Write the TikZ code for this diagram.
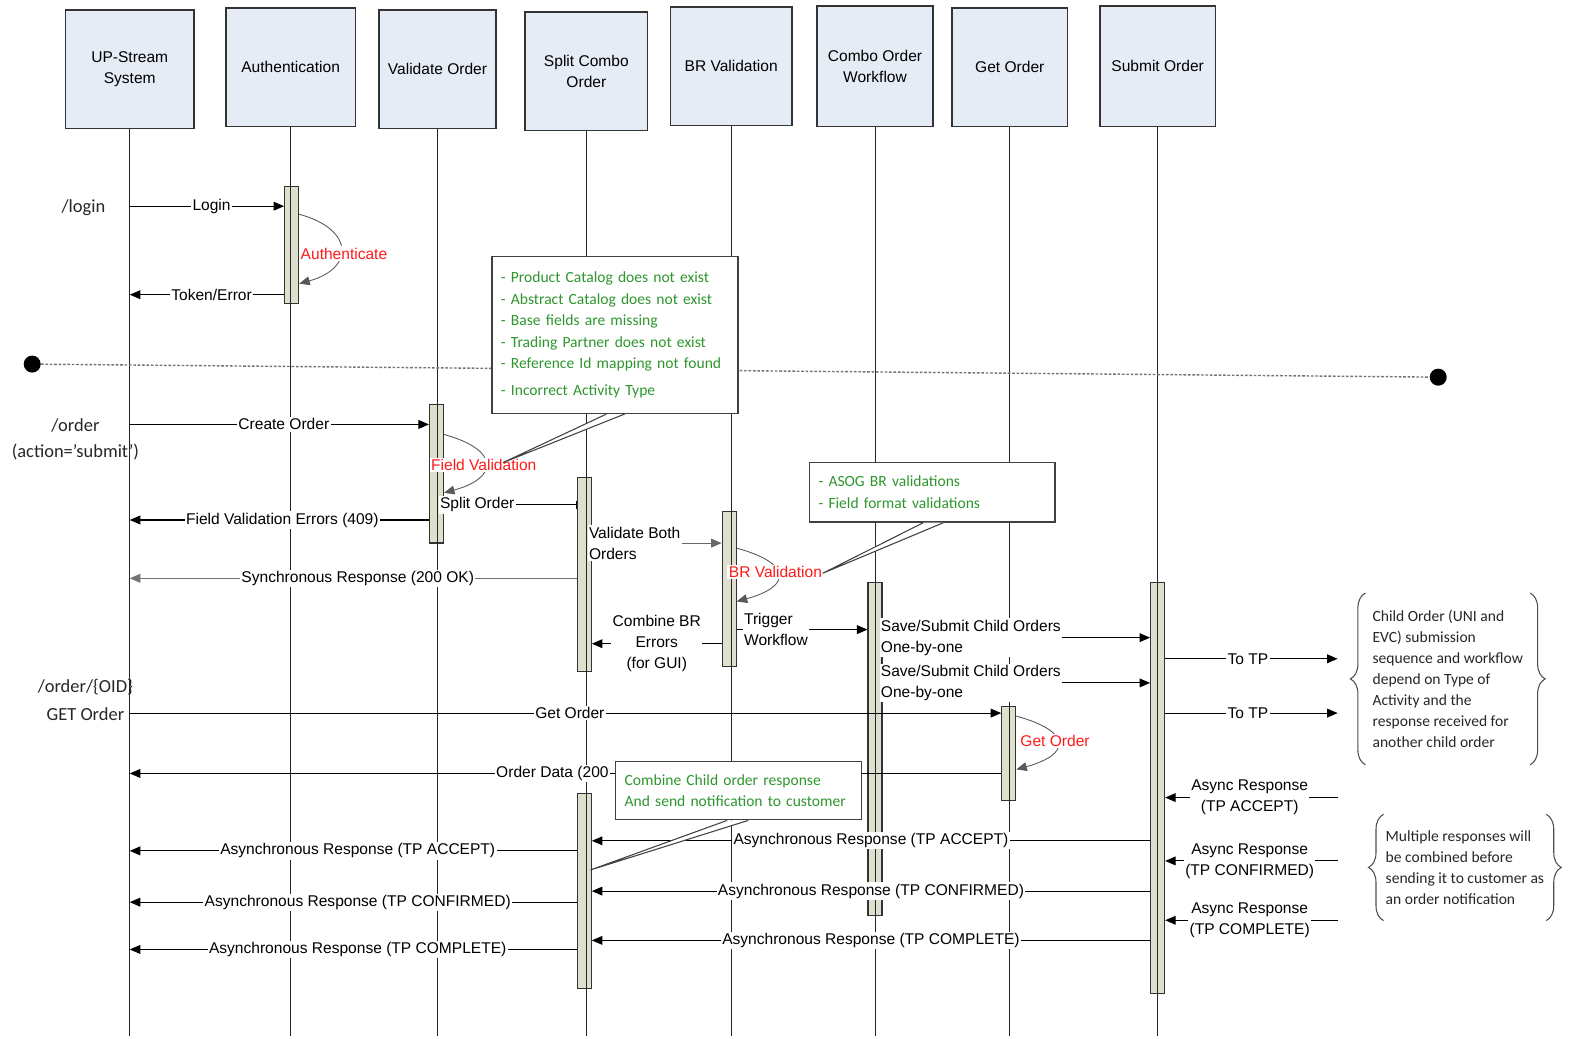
\documentclass[tikz,border=0pt]{standalone}
\usepackage{fontspec}
\setmainfont{Liberation Sans}
\newfontfamily\calibri{Carlito}
\usetikzlibrary{arrows.meta,decorations.pathreplacing}

\definecolor{headfill}{HTML}{E6ECF6}
\definecolor{barfill}{HTML}{DDE0CD}
\definecolor{notegreen}{HTML}{2E962E}
\definecolor{callred}{HTML}{FF1A1A}

\tikzset{
  head/.style={draw=black!80, line width=0.9pt, fill=headfill, minimum height=2.37cm, align=center, inner sep=2pt},
  actbar/.style={draw=black!80, line width=0.6pt, fill=barfill, minimum width=0.28cm, inner sep=0pt},
  life/.style={draw=black!85, line width=0.55pt},
  msg/.style={draw=black, line width=0.6pt, -{Triangle[length=6pt,width=5pt]}},
  msgbar/.style={draw=black, line width=0.6pt, -{Bar[width=5pt]}},
  lbl/.style={fill=white, inner sep=0.8pt, align=center},
  selfcall/.style={draw=black!65, line width=0.5pt, -{Triangle[length=6pt,width=5pt]}},
  redlbl/.style={text=callred, fill=white, inner sep=0.8pt},
  note/.style={draw=black!75, line width=0.7pt, fill=white, align=left, text=notegreen, inner xsep=0.18cm,
    font=\calibri\fontsize{8.85}{12.3}\selectfont},
  tail/.style={draw=black!75, line width=0.6pt, fill=white},
  bracenote/.style={align=left, inner sep=0pt, text=black!85, font=\calibri\fontsize{8.85}{12}\selectfont},
  curly/.style={decorate, decoration={brace, amplitude=0.3cm}, draw=black!70, line width=0.6pt},
  side/.style={text=black!85, font=\calibri\fontsize{10.5}{12}\selectfont},
  dot/.style={circle, fill=black, minimum size=0.34cm, inner sep=0pt},
  divider/.style={draw=black!55, line width=0.8pt, dash pattern=on 1.5pt off 1pt}
}

\begin{document}
\begin{tikzpicture}[x=0.020115cm, y=-0.020115cm, font=\fontsize{8.85}{12}\selectfont]
  \useasboundingbox (0,0) rectangle (1568,1032.1);

  % lifeline heads
  \node[head, minimum width=2.57cm] (up) at (129,69) {UP-Stream\\System};
  \node[head, minimum width=2.59cm] (auth) at (289,67) {Authentication};
  \node[head, minimum width=2.33cm] (valid) at (435,69) {Validate Order};
  \node[head, minimum width=2.45cm] (split) at (583,71) {Split Combo\\Order};
  \node[head, minimum width=2.43cm] (brv) at (727,66) {BR Validation};
  \node[head, minimum width=2.31cm, minimum height=2.41cm] (combo) at (870,66) {Combo Order\\Workflow};
  \node[head, minimum width=2.31cm] (getord) at (1004,67) {Get Order};
  \node[head, minimum width=2.31cm, minimum height=2.41cm] (submit) at (1151,66) {Submit Order};

  % activation bars
  \node[actbar, minimum height=2.35cm] (abar) at (290,243.5) {};
  \node[actbar, minimum height=2.77cm] (vbar) at (434,471) {};
  \node[actbar, minimum height=3.88cm] (sbar1) at (581,571.5) {};
  \node[actbar, minimum height=3.1cm] (brbar) at (725,586) {};
  \node[actbar, minimum height=6.66cm] (cbar) at (870,744.5) {};
  \node[actbar, minimum height=1.89cm] (gbar) at (1003,749) {};
  \node[actbar, minimum height=8.23cm] (sbbar) at (1151,783.5) {};
  \node[actbar, minimum height=3.9cm] (sbar2) at (581,886) {};

  % lifelines
  \foreach \h in {up,auth,valid,split,brv,combo,getord,submit}
    \draw[life] (\h.south) -- (\h.south |- 0,1030);

  % divider
  \node[dot] (ldot) at (32,362) {};
  \node[dot] (rdot) at (1430,375) {};
  \draw[divider] (ldot) -- (rdot);

  % login
  \node[side] (loginpath) at (83,206) {/login};
  \draw[msg] (up |- 0,205) -- node[lbl, pos=0.53] (loginlbl) {Login} (abar.west |- 0,205);
  \draw[selfcall] (abar.east |- 0,213) .. controls +(55,15) and +(55,-15) .. (abar.east |- 0,282);
  \node[redlbl] (authlbl) at (342,252) {Authenticate};
  \draw[msg] (abar.west |- 0,293) -- node[lbl, pos=0.47] (tokenlbl) {Token/Error} (up |- 0,293);

  % create order
  \node[side] (orderpath) at (75,423) {/order};
  \node[side] (orderact) at (75,449) {(action=’submit’)};
  \draw[msg] (up |- 0,422) -- node[lbl, pos=0.515] (createlbl) {Create Order} (vbar.west |- 0,422);
  \draw[selfcall] (vbar.east |- 0,432) .. controls +(55,15) and +(55,-15) .. (vbar.east |- 0,490);
  \node[redlbl] (fvlbl) at (481,462) {Field Validation};
  \draw[msgbar] (vbar.east |- 0,502) -- node[lbl, pos=0.25] (splitlbl) {Split Order} (sbar1.west |- 0,502);
  \draw[msg] (vbar.west |- 0,517) -- node[lbl, pos=0.49] (fverrlbl) {Field Validation Errors (409)} (up |- 0,517);
  \draw[msg, draw=black!55] (sbar1.west |- 0,575) -- node[lbl, pos=0.49] (synclbl) {Synchronous Response (200 OK)} (up |- 0,575);

  % BR validation
  \draw[msg, draw=black!60] (sbar1.east |- 0,540) -- node[lbl, pos=0.33, align=left] (bothlbl) {Validate Both\\Orders} (brbar.west |- 0,540);
  \draw[selfcall] (brbar.east |- 0,545) .. controls +(55,15) and +(55,-15) .. (brbar.east |- 0,598);
  \node[redlbl] (brlbl) at (771,569) {BR Validation};
  \draw[msg] (brbar.west |- 0,640) -- node[lbl, pos=0.5] (combinelbl) {Combine BR\\Errors\\(for GUI)} (sbar1.east |- 0,640);
  \draw[msg] (brbar.east |- 0,626) -- node[lbl, pos=0.3, align=left] (triggerlbl) {Trigger\\Workflow} (cbar.west |- 0,626);

  % child orders
  \draw[msg] (cbar.east |- 0,634) -- node[lbl, pos=0.33, align=left] (save1lbl) {Save/Submit Child Orders\\One-by-one} (sbbar.west |- 0,634);
  \draw[msg] (cbar.east |- 0,679) -- node[lbl, pos=0.33, align=left] (save2lbl) {Save/Submit Child Orders\\One-by-one} (sbbar.west |- 0,679);
  \coordinate (tpout1) at (1330,655);
  \coordinate (tpout2) at (1330,709);
  \draw[msg] (sbbar.east |- tpout1) -- node[lbl, pos=0.48] (totp1) {To TP} (tpout1);
  \draw[msg] (sbbar.east |- tpout2) -- node[lbl, pos=0.48] (totp2) {To TP} (tpout2);

  % get order
  \node[side] (oidpath) at (85,683) {/order/\{OID\}};
  \node[side] (getpath) at (85,710) {GET Order};
  \draw[msg] (up |- 0,709) -- node[lbl, pos=0.505] (getlbl) {Get Order} (gbar.west |- 0,709);
  \draw[selfcall] (gbar.east |- 0,712) .. controls +(55,15) and +(55,-15) .. (gbar.east |- 0,765);
  \node[redlbl] (getredlbl) at (1049,737) {Get Order};
  \draw[msg] (gbar.west |- 0,769) -- node[lbl, pos=0.515] (datalbl) {Order Data (200} (up |- 0,769);

  % async responses from TP
  \coordinate (tpin1) at (1330,793);
  \coordinate (tpin2) at (1330,856);
  \coordinate (tpin3) at (1330,915);
  \draw[msg] (tpin1) -- node[lbl, pos=0.51] (ar1) {Async Response\\(TP ACCEPT)} (sbbar.east |- tpin1);
  \draw[msg] (tpin2) -- node[lbl, pos=0.51] (ar2) {Async Response\\(TP CONFIRMED)} (sbbar.east |- tpin2);
  \draw[msg] (tpin3) -- node[lbl, pos=0.51] (ar3) {Async Response\\(TP COMPLETE)} (sbbar.east |- tpin3);

  % async responses to split and up-stream
  \draw[msg] (sbbar.west |- 0,836) -- node[lbl, pos=0.5] (as1) {Asynchronous Response (TP ACCEPT)} (sbar2.east |- 0,836);
  \draw[msg] (sbbar.west |- 0,886) -- node[lbl, pos=0.5] (as2) {Asynchronous Response (TP CONFIRMED)} (sbar2.east |- 0,886);
  \draw[msg] (sbbar.west |- 0,935) -- node[lbl, pos=0.5] (as3) {Asynchronous Response (TP COMPLETE)} (sbar2.east |- 0,935);
  \draw[msg] (sbar2.west |- 0,846) -- node[lbl, pos=0.49] (us1) {Asynchronous Response (TP ACCEPT)} (up |- 0,846);
  \draw[msg] (sbar2.west |- 0,897) -- node[lbl, pos=0.49] (us2) {Asynchronous Response (TP CONFIRMED)} (up |- 0,897);
  \draw[msg] (sbar2.west |- 0,944) -- node[lbl, pos=0.49] (us3) {Asynchronous Response (TP COMPLETE)} (up |- 0,944);

  % notes
  \node[note, text width=4.56cm, minimum height=3.14cm] (note1) at (611.5,333) {%
    - Product Catalog does not exist\\
    - Abstract Catalog does not exist\\
    - Base fields are missing\\
    - Trading Partner does not exist\\
    - Reference Id mapping not found\\[3pt]
    - Incorrect Activity Type};
  \coordinate (fvtip) at (500,460);
  \draw[tail] (note1.south -| 603,0) -- (fvtip) -- (note1.south -| 621,0);

  \node[note, text width=4.55cm, minimum height=1.19cm] (note2) at (927,489.5) {%
    - ASOG BR validations\\
    - Field format validations};
  \coordinate (brtip) at (818,570);
  \draw[tail] (note2.south -| 918,0) -- (brtip) -- (note2.south -| 938,0);

  \node[note, text width=4.56cm, minimum height=1.17cm] (note3) at (734.5,786) {%
    Combine Child order response\\
    And send notification to customer};
  \coordinate (combtip) at (587,865);
  \draw[tail] (note3.south -| 723,0) -- (combtip) -- (note3.south -| 744,0);

  % brace notes
  \node[bracenote, minimum width=3.28cm, minimum height=3.42cm] (childnote) at (1439.5,675) {%
    Child Order (UNI and\\
    EVC) submission\\
    sequence and workflow\\
    depend on Type of\\
    Activity and the\\
    response received for\\
    another child order};
  \draw[curly] (childnote.south west) -- (childnote.north west);
  \draw[curly] (childnote.north east) -- (childnote.south east);

  \node[bracenote, minimum width=3.24cm, minimum height=2.11cm] (multnote) at (1456.5,862.5) {%
    Multiple responses will\\
    be combined before\\
    sending it to customer as\\
    an order notification};
  \draw[curly] (multnote.south west) -- (multnote.north west);
  \draw[curly] (multnote.north east) -- (multnote.south east);
\end{tikzpicture}
\end{document}
